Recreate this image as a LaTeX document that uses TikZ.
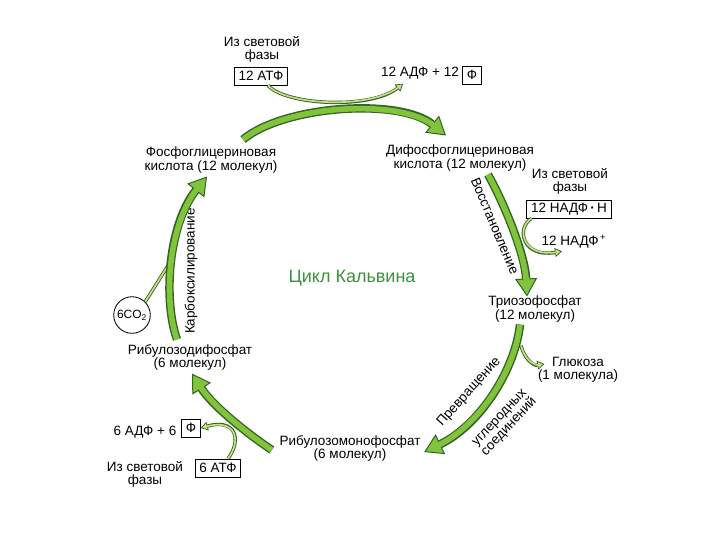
\documentclass[tikz,border=0pt]{standalone}
\usepackage{fontspec}
\setmainfont{Liberation Sans}
\usepackage{tikz}
\usetikzlibrary{arrows.meta, positioning, calc}
\definecolor{cLight}{RGB}{130,195,60}
\definecolor{cPale}{RGB}{200,222,135}
\definecolor{cDark}{RGB}{50,100,35}
\definecolor{cTitle}{RGB}{60,145,60}
\tikzset{
	lbl/.style     ={align=center, inner sep=1pt, font=\fontsize{9.6}{9.3}\selectfont},
	box/.style     ={rectangle, draw=black, line width=0.6pt, inner xsep=3pt, inner ysep=2pt, minimum height=12.8pt, font=\fontsize{9.6}{9.3}\selectfont},
	title/.style   ={text=cTitle, font=\fontsize{12.8}{14}\selectfont},
	% thick green cycle arrows
	bigarrow/.style={draw=cLight, line width=4pt, shorten >=11pt,
		preaction={draw=cDark, line width=6pt, shorten >=0pt,
			-{Triangle[length=12.8pt, width=15.6pt, line width=0.7pt, fill=cLight, color=cDark]}}},
	% thin side arrows
	thinarrow/.style={draw=cPale, line width=1.2pt, shorten >=3.5pt,
		preaction={draw=cDark, line width=2.4pt, shorten >=0pt,
			-{Triangle[length=5pt, width=6.4pt, line width=0.5pt, fill=cPale, color=cDark]}}},
	thinline/.style={draw=cPale, line width=1.2pt,
		preaction={draw=cDark, line width=2.4pt}},
}
\begin{document}
\begin{tikzpicture}[x=0.025cm, y=-0.025cm]
	\useasboundingbox[fill=white] (0,0) rectangle (720,540);
	% compounds of the cycle
	\node[lbl] (pga)  at (211,160) {Фосфоглицериновая\\кислота (12 молекул)};
	\node[lbl] (dpga) at (460,158) {Дифосфоглицериновая\\кислота (12 молекул)};
	\node[lbl] (tp)   at (535,309) {Триозофосфат\\(12 молекул)};
	\node[lbl] (rmp)  at (350,448) {Рибулозомонофосфат\\(6 молекул)};
	\node[lbl] (rdp)  at (190,357) {Рибулозодифосфат\\(6 молекул)};
	\node[title] (cycle) at (352,278) {Цикл Кальвина};
	% energy from the light phase
	\node[lbl] (light1) at (262,49) {Из световой\\фазы};
	\node[box] (atp12)  at (261,76) {12 АТФ};
	\node[lbl] (adp12)  at (420,73) {12 АДФ + 12};
	\node[box] (ph1)    at (472,75) {Ф};
	\node[lbl] (light2) at (570,181) {Из световой\\фазы};
	\node[box] (nadph)  at (569,209) {12 НАДФ\,\textbf{·}\,Н};
	\node[lbl] (nadp)   at (574,242) {12 НАДФ\textsuperscript{\,+}};
	\node[lbl] (gluc)   at (578,370) {Глюкоза\\(1 молекула)};
	\node[lbl] (adp6)   at (145,432) {6 АДФ + 6};
	\node[box] (ph2)    at (191,428) {Ф};
	\node[lbl] (light3) at (145,474) {Из световой\\фазы};
	\node[box] (atp6)   at (218,468) {6 АТФ};
	\node[circle, draw=black, line width=0.6pt, minimum size=26pt, inner sep=0pt,
		font=\fontsize{8.5}{9}\selectfont] (co2) at (132,315) {6CO\textsubscript{2}};
	% stage labels
	\node[lbl, rotate=-67] (redlbl)    at (495,226) {Восстановление};
	\node[lbl, rotate=48]  (convlbl)   at (469,392) {Превращение};
	\node[lbl, rotate=47]  (carblbl)   at (505,423) {углеродных\\соединений};
	\node[lbl, rotate=90]  (carboxlbl) at (191,271) {Карбоксилирование};
	\coordinate (join) at (169,264);
	% side arrows
	\draw[thinarrow] ([shift={(7,0)}]atp12.south) .. controls (285,105) and (370,110) .. ([shift={(-17,3)}]adp12.south);
	\draw[thinarrow] ([shift={(5,0)}]nadph.south west) .. controls (516,228) and (522,258) .. ([shift={(-12,1)}]nadp.south);
	\draw[thinarrow] ([shift={(-14,22)}]tp.south) .. controls (524,358) and (533,366) .. ([shift={(8,-6)}]gluc.west);
	\draw[thinarrow] ([shift={(10,0)}]atp6.north) .. controls (242,440) and (236,418) .. (ph2.east);
	\draw[thinline] (co2.north east) -- (join);
	% cycle arrows
	\draw[bigarrow] ([shift={(32,-6)}]pga.north) .. controls (285,105) and (400,98) .. ([shift={(-14,-8)}]dpga.north);
	\draw[bigarrow] ([shift={(28,2)}]dpga.south) .. controls (505,205) and (525,255) .. ([shift={(-8,2)}]tp.north);
	\draw[bigarrow] ([shift={(-15,1)}]tp.south) .. controls (515,370) and (480,425) .. ([shift={(2,4)}]rmp.east);
	\draw[bigarrow] ([shift={(-6,2)}]rmp.west) .. controls (245,432) and (212,405) .. ([shift={(2,2)}]rdp.south);
	\draw[bigarrow] ([shift={(-13,-3)}]rdp.north) .. controls (163,300) and (168,225) .. ([shift={(-4,2)}]pga.south);
\end{tikzpicture}
\end{document}
